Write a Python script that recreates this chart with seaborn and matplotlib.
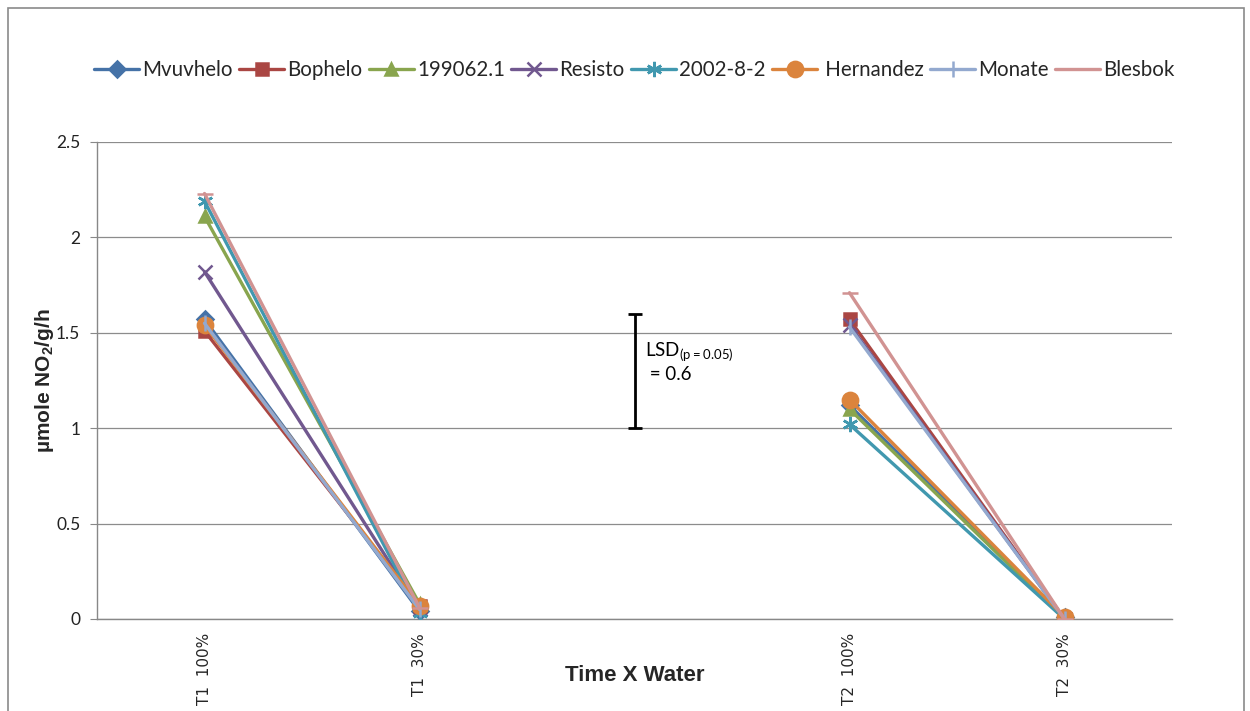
import numpy as np
import pandas as pd
import matplotlib
matplotlib.use("Agg")
import matplotlib.pyplot as plt
import seaborn as sns
from matplotlib.patches import Rectangle

# data
varieties = ["Mvuvhelo", "Bophelo", "199062.1", "Resisto", "2002-8-2", " Hernandez", "Monate", "Blesbok"]
categories = ["T1  100%", "T1  30%", "", "T2  100%", "T2  30%"]
t1_100 = [1.57, 1.51, 2.11, 1.82, 2.19, 1.54, 1.55, 2.23]
t1_30 = [0.04, 0.07, 0.08, 0.05, 0.03, 0.07, 0.05, 0.06]
t2_100 = [1.12, 1.57, 1.10, 1.54, 1.02, 1.15, 1.53, 1.71]
t2_30 = [0.01, 0.00, 0.00, 0.00, 0.00, 0.01, 0.00, 0.00]
lsd_value = 0.6
lsd_center = 1.3

colors = ["#4572A7", "#AA4643", "#89A54E", "#71588F", "#4198AF", "#DB843D", "#93A9CF", "#D19392"]
markers = ["D", "s", "^", "x", (6, 2, 0), "o", "|", "_"]
msizes = [8, 9, 9, 10, 11, 11, 11, 11]

rows = []
for i, v in enumerate(varieties):
    for cat, vals, seg in [(categories[0], t1_100, "T1"), (categories[1], t1_30, "T1"),
                           (categories[3], t2_100, "T2"), (categories[4], t2_30, "T2")]:
        rows.append({"variety": v, "cat": cat, "pos": categories.index(cat), "value": vals[i], "seg": seg})
df = pd.DataFrame(rows)

sns.set_style("white")
plt.rcParams["font.family"] = ["Lato", "DejaVu Sans"]
plt.rcParams["mathtext.default"] = "regular"

fig = plt.figure(figsize=(12.5, 7.11), dpi=100)
ax = fig.add_axes([0.0776, 0.1294, 0.86, 0.6709])

for i, v in enumerate(varieties):
    sub = df[df["variety"] == v]
    sns.lineplot(data=sub, x="pos", y="value", units="seg", estimator=None, ax=ax,
                 color=colors[i], marker=markers[i], markersize=msizes[i],
                 markeredgecolor=colors[i], markeredgewidth=1.8, linewidth=2.4,
                 label=v, zorder=3 + i)

# LSD bar in the empty slot
ax.errorbar([categories.index("")], [lsd_center], yerr=[lsd_value / 2], color="black",
            capsize=5, elinewidth=2, capthick=2, zorder=10)
ax.text(categories.index("") + 0.05, lsd_center + 0.16, "LSD$_{(p=0.05)}$\n = 0.6",
        fontsize=13.5, va="top", ha="left", color="black")

ax.set_xlim(-0.5, len(categories) - 0.5)
ax.set_ylim(0, 2.5)
ax.set_yticks(np.arange(0, 2.51, 0.5))
ax.set_yticklabels(["0", "0.5", "1", "1.5", "2", "2.5"], fontsize=12.5, color="#222222")
ax.set_xticks(range(len(categories)))
ax.set_xticklabels(categories, rotation=90, fontsize=11, family="DejaVu Sans", va="top")
ax.set_xticks(np.arange(-0.5, len(categories), 1), minor=True)
ax.tick_params(axis="x", which="major", length=0, pad=10)
ax.tick_params(axis="x", which="minor", length=5, color="#888888", direction="out")
ax.tick_params(axis="y", length=5, color="#888888", direction="out", left=True, pad=7)
ax.grid(axis="y", color="#8c8c8c", linewidth=0.9)
ax.grid(axis="x", visible=False)
for s in ["top", "right"]:
    ax.spines[s].set_visible(False)
for s in ["left", "bottom"]:
    ax.spines[s].set_color("#888888")
    ax.spines[s].set_linewidth(1)

ax.set_xlabel("Time X Water", fontsize=16, fontweight="bold", family=["Liberation Sans", "DejaVu Sans"], labelpad=-29)
ax.set_ylabel("µmole NO$_2$/g/h", fontsize=15, fontweight="bold", family=["Liberation Sans", "DejaVu Sans"], labelpad=0)

handles, labels = ax.get_legend_handles_labels()
uniq = dict(zip(labels, handles))
ax.legend(uniq.values(), uniq.keys(), loc="center", bbox_to_anchor=(0.5, 1.151), ncol=8,
          frameon=False, fontsize=14.8, handlelength=2.2, handletextpad=0.15, columnspacing=0.3)

fig.patches.append(Rectangle((8 / 1250, -0.01), 1236 / 1250, 1 - 8 / 711 + 0.01,
                             transform=fig.transFigure, fill=False, edgecolor="#8a8a8a",
                             linewidth=1.2))

fig.savefig("out.png", dpi=100)
